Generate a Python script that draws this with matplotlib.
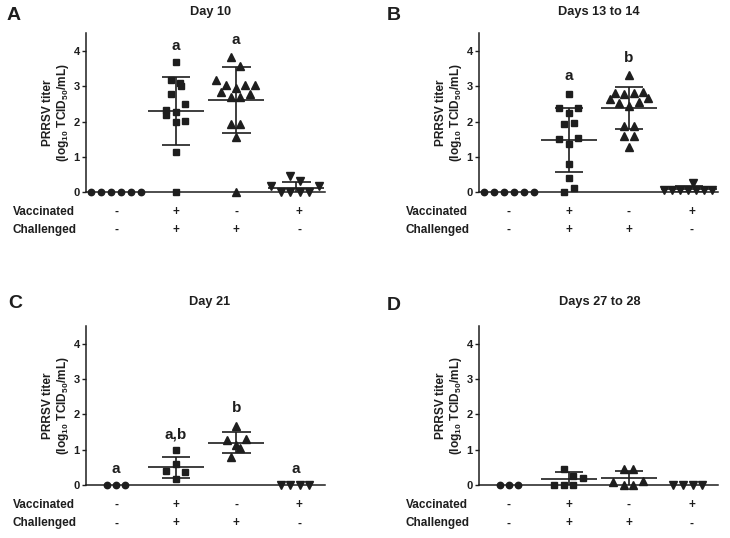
import matplotlib
matplotlib.use('Agg')
import matplotlib.pyplot as plt
import matplotlib.transforms as mtransforms
import numpy as np

plt.rcParams['font.family'] = ['Liberation Sans', 'DejaVu Sans']
plt.rcParams['font.weight'] = 'bold'
plt.rcParams['mathtext.fontset'] = 'custom'
plt.rcParams['mathtext.rm'] = 'Liberation Sans:bold'
plt.rcParams['mathtext.it'] = 'Liberation Sans:bold'
plt.rcParams['mathtext.bf'] = 'Liberation Sans:bold'

# ---------------- data ----------------
panel_letters = ['A', 'B', 'C', 'D']
panel_titles = ['Day 10', 'Days 13 to 14', 'Day 21', 'Days 27 to 28']
vaccinated = ['-', '+', '-', '+']
challenged = ['-', '+', '+', '-']
y_ticks = [0, 1, 2, 3, 4]
y_label = 'PRRSV titer\n(log$_{10}$ TCID$_{50}$/mL)'

# Panel A (Day 10)
a_g1_jit = [-0.41, -0.245, -0.08, 0.08, 0.245, 0.41]
a_g1_val = [0, 0, 0, 0, 0, 0]
a_g2_jit = [0, -0.08, 0.06, 0.08, -0.08, 0.15, -0.17, -0.17, 0, 0, 0.15, 0, 0]
a_g2_val = [3.70, 3.17, 3.10, 3.00, 2.79, 2.50, 2.32, 2.19, 2.26, 1.98, 2.03, 1.13, 0]
a_g3_jit = [-0.08, 0.07, -0.33, -0.17, 0, 0.155, 0.31, -0.25, -0.08, 0.07, 0.23, -0.08, 0.07, 0, 0]
a_g3_val = [3.83, 3.57, 3.18, 3.05, 2.96, 3.05, 3.05, 2.84, 2.70, 2.70, 2.77, 1.94, 1.94, 1.56, 0]
a_g4_jit = [-0.42, -0.25, -0.10, -0.10, 0.067, 0.067, 0.22, 0.38]
a_g4_val = [0.18, 0, 0.46, 0, 0.33, 0, 0, 0.19]
a_mean = [0, 2.31, 2.62, 0.13]
a_sd = [0, 0.96, 0.94, 0.17]
a_sig = ['', 'a', 'a', '']
a_sig_y = [0, 4.14, 4.30, 0]

# Panel B (Days 13 to 14)
b_g1_jit = [-0.41, -0.245, -0.08, 0.08, 0.245, 0.41]
b_g1_val = [0, 0, 0, 0, 0, 0]
b_g2_jit = [0, -0.16, 0.15, 0, -0.08, 0.08, -0.16, 0.15, 0, 0, 0, 0.08, -0.08]
b_g2_val = [2.77, 2.38, 2.38, 2.24, 1.93, 1.97, 1.51, 1.53, 1.36, 0.80, 0.40, 0.13, 0]
b_g3_jit = [0, -0.24, -0.08, 0.08, 0.24, -0.32, -0.16, 0, 0.16, 0.32, -0.08, 0.08, -0.08, 0.08, 0]
b_g3_val = [3.32, 2.82, 2.78, 2.82, 2.84, 2.63, 2.52, 2.45, 2.56, 2.66, 1.89, 1.89, 1.59, 1.58, 1.27]
b_g4_jit = [-0.42, -0.29, -0.15, -0.02, 0.11, 0.25, 0.39, 0.06]
b_g4_val = [0.07, 0.07, 0.07, 0.07, 0.07, 0.07, 0.07, 0.27]
b_mean = [0, 1.49, 2.38, 0.10]
b_sd = [0, 0.91, 0.59, 0.08]
b_sig = ['', 'a', 'b', '']
b_sig_y = [0, 3.29, 3.81, 0]

# Panel C (Day 21)
c_g1_jit = [-0.155, 0, 0.155]
c_g1_val = [0, 0, 0]
c_g2_jit = [0, 0, -0.17, 0.15, 0]
c_g2_val = [0.99, 0.60, 0.41, 0.38, 0.17]
c_g3_jit = [0, -0.16, 0.16, 0, 0.07, -0.08]
c_g3_val = [1.68, 1.28, 1.30, 1.13, 1.06, 0.79]
c_g4_jit = [-0.26, -0.10, 0.07, 0.22]
c_g4_val = [0, 0, 0, 0]
c_mean = [0, 0.50, 1.20, 0]
c_sd = [0, 0.30, 0.29, 0]
c_sig = ['a', 'a,b', 'b', 'a']
c_sig_y = [0.45, 1.44, 2.19, 0.45]

# Panel D (Days 27 to 28)
d_g1_jit = [-0.155, 0, 0.155]
d_g1_val = [0, 0, 0]
d_g2_jit = [-0.08, 0.07, 0.24, -0.245, -0.08, 0.07]
d_g2_val = [0.45, 0.26, 0.21, 0, 0, 0]
d_g3_jit = [-0.08, 0.07, -0.26, 0.23, -0.08, 0.07]
d_g3_val = [0.45, 0.45, 0.08, 0.12, 0, 0]
d_g4_jit = [-0.26, -0.095, 0.06, 0.22]
d_g4_val = [0, 0, 0, 0]
d_mean = [0, 0.16, 0.19, 0]
d_sd = [0, 0.20, 0.22, 0]
d_sig = ['', '', '', '']
d_sig_y = [0, 0, 0, 0]

panels = [
    ([(a_g1_jit, a_g1_val), (a_g2_jit, a_g2_val), (a_g3_jit, a_g3_val), (a_g4_jit, a_g4_val)], a_mean, a_sd, a_sig, a_sig_y),
    ([(b_g1_jit, b_g1_val), (b_g2_jit, b_g2_val), (b_g3_jit, b_g3_val), (b_g4_jit, b_g4_val)], b_mean, b_sd, b_sig, b_sig_y),
    ([(c_g1_jit, c_g1_val), (c_g2_jit, c_g2_val), (c_g3_jit, c_g3_val), (c_g4_jit, c_g4_val)], c_mean, c_sd, c_sig, c_sig_y),
    ([(d_g1_jit, d_g1_val), (d_g2_jit, d_g2_val), (d_g3_jit, d_g3_val), (d_g4_jit, d_g4_val)], d_mean, d_sd, d_sig, d_sig_y),
]

# ---------------- layout / style ----------------
W, H = 730, 538
def fx(px):
    return px / W
def fy(py):
    return 1 - py / H

ink = '#1e1e1e'
markers = ['o', 's', '^', 'v']
msize = [4.6, 4.6, 5.2, 5.2]
sign_x = [0, 1, 2, 3.05]

# (left, right, top, bottom) in pixels
boxes = [(86, 325, 33.3, 192.3), (479, 717.7, 33.3, 192.3),
         (86, 325, 326, 485), (479, 717.7, 326, 485)]
letter_pos = [(14, 15), (394, 15), (15, 304), (394, 305)]
title_pos = [(210.5, 12), (599, 12), (210, 302), (600, 302)]
ylabel_pos = [(56.5, 113), (449.5, 113), (56.5, 406), (449.5, 406)]
row_left = [12.7, 405.7, 12.7, 405.7]
row_y = [(211.7, 230), (211.7, 230), (505, 523.3), (505, 523.3)]

fig = plt.figure(figsize=(7.3, 5.38), dpi=100)
fig.patch.set_facecolor('white')

for i, (groups, means, sds, sig, sig_y) in enumerate(panels):
    l, r, t, b = boxes[i]
    ax = fig.add_axes([fx(l), fy(b), (r - l) / W, (b - t) / H])
    ax.set_xlim(-0.5, 3.48)
    ax.set_ylim(0, 4.5)
    for s in ['top', 'right']:
        ax.spines[s].set_visible(False)
    for s in ['left', 'bottom']:
        ax.spines[s].set_linewidth(1.1)
        ax.spines[s].set_color(ink)
    ax.set_xticks([])
    ax.set_yticks(y_ticks)
    ax.tick_params(axis='y', length=3, width=1.0, pad=1.5, labelsize=8, colors=ink)
    for lab in ax.get_yticklabels():
        lab.set_fontweight('bold')

    for g, (jit, vals) in enumerate(groups):
        xs = g + np.asarray(jit, dtype=float)
        ax.plot(xs, vals, ls='none', marker=markers[g], ms=msize[g], color=ink,
                mec=ink, clip_on=False, zorder=4)
        m, sd = means[g], sds[g]
        if m > 0:
            ax.hlines(m, g - 0.47, g + 0.47, color=ink, lw=1.2, zorder=3)
            ax.vlines(g, m - sd, m + sd, color=ink, lw=1.2, zorder=3)
            ax.hlines([m - sd, m + sd], g - 0.24, g + 0.24, color=ink, lw=1.2, zorder=3)
        if sig[g]:
            ax.text(g, sig_y[g], sig[g], ha='center', va='center', fontsize=11,
                    fontweight='bold', color=ink)

    # group rows
    tr = mtransforms.blended_transform_factory(ax.transData, fig.transFigure)
    for k in range(4):
        ax.text(sign_x[k], fy(row_y[i][0]), vaccinated[k], transform=tr, ha='center',
                va='center', fontsize=8.5, fontweight='bold', color=ink, clip_on=False)
        ax.text(sign_x[k], fy(row_y[i][1]), challenged[k], transform=tr, ha='center',
                va='center', fontsize=8.5, fontweight='bold', color=ink, clip_on=False)
    fig.text(fx(row_left[i]), fy(row_y[i][0]), 'Vaccinated', ha='left', va='center',
             fontsize=8.5, fontweight='bold', color=ink)
    fig.text(fx(row_left[i]), fy(row_y[i][1]), 'Challenged', ha='left', va='center',
             fontsize=8.5, fontweight='bold', color=ink)

    fig.text(fx(ylabel_pos[i][0]), fy(ylabel_pos[i][1]), y_label, rotation=90,
             ha='center', va='center', multialignment='center', fontsize=8.6,
             fontweight='bold', color=ink, linespacing=1.05)
    fig.text(fx(letter_pos[i][0]), fy(letter_pos[i][1]), panel_letters[i], ha='center',
             va='center', fontsize=14, fontweight='bold', color=ink)
    fig.text(fx(title_pos[i][0]), fy(title_pos[i][1]), panel_titles[i], ha='center',
             va='center', fontsize=9.2, fontweight='bold', color=ink)

fig.savefig('out.png', dpi=100, facecolor='white')
